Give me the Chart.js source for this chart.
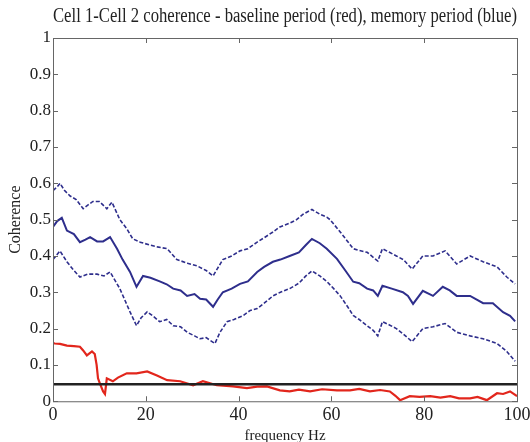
<!DOCTYPE html>
<html>
<head>
<meta charset="utf-8">
<script src="https://cdn.jsdelivr.net/npm/chart.js@4"></script>
<style>
  html, body { margin: 0; padding: 0; background: #fff; }
  #wrap { width: 530px; height: 442px; }
</style>
</head>
<body>
<div id="wrap"><canvas id="chart" width="530" height="442"></canvas></div>
<script>
// values
const meanHz = [0, 0.9, 1.9, 3, 4.5, 5.8, 7, 8, 9.5, 10.8, 12.3, 13.8, 15, 16.6, 18, 19.4, 21, 23, 24.5, 25.9, 27.5, 28.9, 30.5, 31.7, 33, 34.5, 35.5, 36.6, 38.5, 40.3, 42, 44, 45.5, 47.4, 49, 51, 53, 54.5, 55.8, 57.5, 59, 61.2, 63, 64.7, 66, 67.7, 69, 70, 71, 73, 75.4, 76.5, 77.6, 79.7, 81.9, 84, 85.5, 87, 89.9, 92.7, 94.8, 97, 98.5, 99.6];
const meanCoh = [0.48, 0.496, 0.505, 0.47, 0.46, 0.438, 0.445, 0.452, 0.44, 0.44, 0.452, 0.42, 0.39, 0.356, 0.315, 0.345, 0.34, 0.33, 0.322, 0.31, 0.305, 0.29, 0.295, 0.282, 0.28, 0.26, 0.28, 0.3, 0.31, 0.323, 0.33, 0.356, 0.37, 0.384, 0.39, 0.4, 0.41, 0.43, 0.447, 0.435, 0.42, 0.392, 0.36, 0.329, 0.325, 0.31, 0.305, 0.29, 0.318, 0.31, 0.3, 0.29, 0.268, 0.304, 0.29, 0.315, 0.305, 0.29, 0.29, 0.27, 0.27, 0.245, 0.235, 0.22];

const upperHz = [0, 0.9, 1.5, 2.5, 3.7, 5, 6.5, 7.5, 8.6, 10, 11.6, 12.7, 14.4, 15.9, 17.2, 18.8, 20.9, 22.5, 24.6, 26.7, 29, 31, 33, 34.5, 36.6, 38.5, 40.3, 42, 44, 45.5, 47.4, 48.9, 51, 52.5, 53.9, 55.8, 57.5, 59, 59.7, 61.9, 63.5, 64.7, 66, 67.7, 70, 71, 72.5, 74, 75.5, 77.4, 79.7, 81.9, 84.5, 87, 89.9, 92.7, 95.7, 97.8, 99.6];
const upperCoh = [0.58, 0.59, 0.6, 0.58, 0.565, 0.555, 0.53, 0.54, 0.55, 0.55, 0.53, 0.548, 0.5, 0.475, 0.447, 0.438, 0.43, 0.425, 0.42, 0.39, 0.38, 0.373, 0.36, 0.345, 0.39, 0.4, 0.414, 0.42, 0.438, 0.45, 0.466, 0.48, 0.49, 0.5, 0.515, 0.528, 0.515, 0.507, 0.5, 0.466, 0.44, 0.42, 0.415, 0.41, 0.386, 0.42, 0.41, 0.4, 0.39, 0.364, 0.4, 0.4, 0.414, 0.378, 0.4, 0.384, 0.37, 0.342, 0.323];

const lowerHz = [0, 1.5, 3, 4.5, 5.8, 7.5, 9.5, 11, 12.3, 14.4, 16.6, 18, 19, 20.3, 21.5, 23, 24.5, 25.9, 27.5, 28.9, 30.5, 31.7, 33, 34.9, 36, 37.5, 39, 41, 42.5, 44, 45.5, 47.4, 49, 51, 53, 54.5, 55.8, 57.5, 59, 60.5, 61.9, 63.5, 64.7, 66, 67.7, 69, 70, 71, 72.5, 74, 75.5, 77.4, 79.7, 81.9, 84.5, 87, 89.9, 92.7, 95.7, 97.8, 99.6];
const lowerCoh = [0.39, 0.414, 0.384, 0.36, 0.342, 0.35, 0.35, 0.345, 0.356, 0.31, 0.246, 0.208, 0.23, 0.246, 0.235, 0.219, 0.225, 0.208, 0.205, 0.19, 0.18, 0.172, 0.175, 0.159, 0.19, 0.219, 0.225, 0.236, 0.25, 0.255, 0.27, 0.29, 0.3, 0.31, 0.325, 0.345, 0.359, 0.345, 0.33, 0.31, 0.29, 0.26, 0.236, 0.225, 0.208, 0.195, 0.18, 0.219, 0.21, 0.2, 0.185, 0.164, 0.2, 0.205, 0.214, 0.19, 0.18, 0.172, 0.159, 0.137, 0.11];

const baseHz = [0, 0.4, 1.5, 3, 4.5, 5.8, 6.5, 7.3, 8.4, 9, 9.4, 9.7, 10.1, 10.8, 11.2, 11.6, 12.9, 14, 15.9, 18, 20.3, 22.4, 24.6, 27.4, 30.2, 32.3, 35.3, 38.8, 41.8, 44, 46.1, 48.9, 51, 53, 55.4, 58, 61.2, 64, 66, 68.3, 70.5, 72.6, 73.8, 74.8, 76.9, 79, 81.3, 83.5, 85.6, 87.5, 89.9, 91.5, 93.5, 95.7, 97, 98.5, 100];
const baseCoh = [0.16, 0.159, 0.158, 0.153, 0.152, 0.15, 0.14, 0.126, 0.137, 0.13, 0.1, 0.063, 0.049, 0.027, 0.02, 0.063, 0.055, 0.065, 0.077, 0.077, 0.082, 0.071, 0.058, 0.055, 0.044, 0.055, 0.044, 0.041, 0.036, 0.04, 0.041, 0.03, 0.027, 0.032, 0.027, 0.033, 0.03, 0.03, 0.034, 0.027, 0.031, 0.027, 0.015, 0.003, 0.014, 0.012, 0.014, 0.01, 0.014, 0.008, 0.008, 0.012, 0.003, 0.022, 0.02, 0.027, 0.014];

const threshHz = [0, 100];
const threshCoh = [0.047, 0.047];

const xTicks = [0, 20, 40, 60, 80, 100];
const yTicks = [0, 0.1, 0.2, 0.3, 0.4, 0.5, 0.6, 0.7, 0.8, 0.9, 1];

const BLUE = "#2e2e8c";
const RED = "#e2261c";
const SERIF = "'Liberation Serif', 'Times New Roman', serif";

const pts = (xs, ys) => xs.map((x, i) => ({ x, y: ys[i] }));

// MATLAB style box with inward ticks on all four sides
const boxPlugin = {
  id: "box",
  afterDatasetsDraw(chart) {
    const { ctx, chartArea: a, scales } = chart;
    const tl = 5;
    ctx.save();
    ctx.strokeStyle = "#666";
    ctx.lineWidth = 1;
    ctx.strokeRect(a.left + 0.5, a.top + 0.5, a.width, a.height);
    ctx.beginPath();
    xTicks.forEach((v) => {
      const px = Math.round(scales.x.getPixelForValue(v)) + 0.5;
      ctx.moveTo(px, a.bottom); ctx.lineTo(px, a.bottom - tl);
      ctx.moveTo(px, a.top); ctx.lineTo(px, a.top + tl);
    });
    yTicks.forEach((v) => {
      const py = Math.round(scales.y.getPixelForValue(v)) + 0.5;
      ctx.moveTo(a.left, py); ctx.lineTo(a.left + tl, py);
      ctx.moveTo(a.right, py); ctx.lineTo(a.right - tl, py);
    });
    ctx.stroke();
    ctx.restore();
  },
};

new Chart(document.getElementById("chart"), {
  type: "line",
  data: {
    datasets: [
      { label: "upper", data: pts(upperHz, upperCoh), borderColor: BLUE, borderWidth: 1.6, borderDash: [4, 2] },
      { label: "memory", data: pts(meanHz, meanCoh), borderColor: BLUE, borderWidth: 2 },
      { label: "lower", data: pts(lowerHz, lowerCoh), borderColor: BLUE, borderWidth: 1.6, borderDash: [4, 2] },
      { label: "threshold", data: pts(threshHz, threshCoh), borderColor: "#222", borderWidth: 2.5 },
      { label: "baseline", data: pts(baseHz, baseCoh), borderColor: RED, borderWidth: 2.2 },
    ],
  },
  options: {
    responsive: false,
    animation: false,
    layout: { padding: { left: 0, right: 13, top: 0, bottom: 0 } },
    elements: { point: { radius: 0 }, line: { tension: 0 } },
    plugins: {
      legend: { display: false },
      tooltip: { enabled: false },
      title: {
        display: true,
        fullSize: false,
        text: "Cell 1-Cell 2 coherence - baseline period (red), memory period (blue)",
        color: "#222",
        font: { family: SERIF, size: 20, weight: "normal", lineHeight: 1.2 },
        padding: { top: 5, bottom: 9 },
      },
    },
    scales: {
      x: {
        type: "linear",
        min: 0,
        max: 100,
        afterBuildTicks: (s) => { s.ticks = xTicks.map((v) => ({ value: v })); },
        afterFit: (s) => { s.paddingLeft = 0; s.paddingRight = 0; },
        grid: { display: false, drawTicks: false },
        border: { display: false },
        ticks: { color: "#222", font: { family: SERIF, size: 18, lineHeight: 1 }, padding: 5 },
        title: { display: true, text: "frequency Hz", color: "#222", font: { family: SERIF, size: 15, lineHeight: 0.85 }, padding: 0 },
      },
      y: {
        type: "linear",
        min: 0,
        max: 1,
        afterBuildTicks: (s) => { s.ticks = yTicks.map((v) => ({ value: v })); },
        afterFit: (s) => { s.width = 53; },
        grid: { display: false, drawTicks: false },
        border: { display: false },
        ticks: { color: "#222", font: { family: SERIF, size: 17 }, padding: 2, callback: (v) => String(Math.round(v * 10) / 10) },
        title: { display: true, text: "Coherence", color: "#222", font: { family: SERIF, size: 16, lineHeight: 1.2 }, padding: { top: 6, bottom: 0 } },
      },
    },
  },
  plugins: [boxPlugin],
});
</script>
</body>
</html>
